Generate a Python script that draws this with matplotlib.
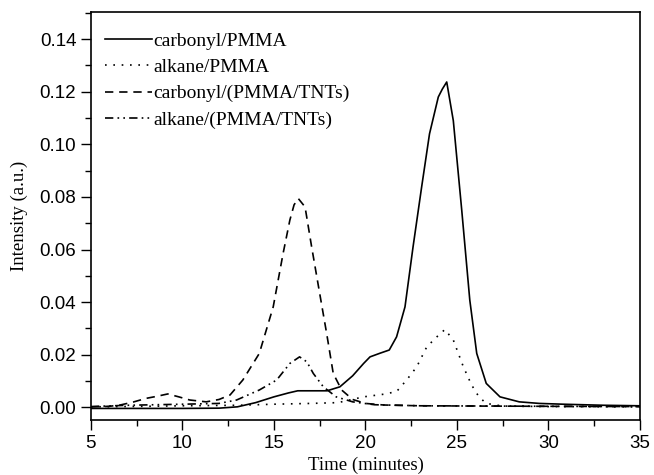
import matplotlib
matplotlib.use("Agg")
import matplotlib.pyplot as plt
import numpy as np
from matplotlib.ticker import MultipleLocator

# carbonyl/PMMA (solid)
t_cp = [5, 8, 10, 12, 13, 14, 15, 15.8, 16.3, 17.0, 17.9, 18.6, 19.3, 19.9, 20.25, 20.8, 21.3,
        21.7, 22.16, 22.6, 23.07, 23.5, 23.98, 24.2, 24.44, 24.8, 25.26, 25.7, 26.08, 26.6,
        27.35, 28.4, 29.5, 30.8, 33, 35]
y_cp = [-0.0004, -0.0004, -0.0004, -0.0003, 0.0002, 0.0018, 0.004, 0.0055, 0.0063, 0.0063,
        0.0063, 0.0078, 0.012, 0.0167, 0.0192, 0.0206, 0.0218, 0.0268, 0.0382, 0.061, 0.0838,
        0.104, 0.118, 0.121, 0.1237, 0.109, 0.075, 0.0408, 0.0205, 0.0091, 0.004, 0.0021,
        0.0015, 0.0012, 0.0008, 0.0006]

# alkane/PMMA (dotted)
t_ap = [5, 8, 10, 13, 15, 17, 18.5, 19.9, 21, 21.7, 22.25, 22.8, 23.35, 23.9, 24.34, 24.8,
        25.35, 25.8, 26.2, 26.6, 27.5, 30, 35]
y_ap = [0.0002, 0.0004, 0.0006, 0.0008, 0.0012, 0.0015, 0.0018, 0.004, 0.005, 0.006, 0.0104,
        0.0154, 0.023, 0.0268, 0.0296, 0.0256, 0.0154, 0.0085, 0.004, 0.0015, 0.0005, 0.0003,
        0.0002]

# carbonyl/(PMMA/TNTs) (dashed)
t_ct = [5, 6, 6.6, 7.3, 8.0, 8.6, 9.2, 9.8, 10.4, 11.3, 12.0, 12.6, 13.3, 14.2, 14.96, 15.5,
        15.87, 16.1, 16.33, 16.7, 17.06, 17.5, 17.88, 18.24, 18.7, 19.3, 20, 21, 23, 26, 30, 35]
y_ct = [0.0002, 0.0004, 0.0009, 0.002, 0.0034, 0.0042, 0.0051, 0.004, 0.0028, 0.0021, 0.003,
        0.0047, 0.0104, 0.0205, 0.0382, 0.0585, 0.0712, 0.077, 0.0794, 0.0762, 0.061, 0.0433,
        0.0281, 0.0129, 0.0066, 0.003, 0.0015, 0.0009, 0.0006, 0.0005, 0.0004, 0.0003]

# alkane/(PMMA/TNTs) (dash-dot-dot)
t_at = [5, 7, 10, 12, 12.96, 14.2, 15.15, 15.87, 16.4, 16.8, 17.15, 17.7, 18.4, 19.3, 20.5,
        23, 27, 30, 35]
y_at = [0.0003, 0.0008, 0.0012, 0.0015, 0.0028, 0.0066, 0.0104, 0.0167, 0.0192, 0.0173, 0.0129,
        0.0078, 0.004, 0.0021, 0.0010, 0.0006, 0.0005, 0.0004, 0.0003]

labels = ["carbonyl/PMMA", "alkane/PMMA", "carbonyl/(PMMA/TNTs)", "alkane/(PMMA/TNTs)"]

fig = plt.figure(figsize=(6.54, 4.75), dpi=100)
ax = fig.add_axes([0.139, 0.1158, 0.8396, 0.8589])

lw = 1.2
ax.plot(t_cp, y_cp, color="black", lw=lw, linestyle="-", label=labels[0])
ax.plot(t_ap, y_ap, color="black", lw=lw, linestyle=(0, (1, 4)), label=labels[1])
ax.plot(t_ct, y_ct, color="black", lw=lw, linestyle=(0, (5, 3.5)), label=labels[2])
ax.plot(t_at, y_at, color="black", lw=lw, linestyle=(0, (5, 2.5, 1, 2.5, 1, 2.5)), label=labels[3])

ax.set_xlim(5, 35)
ax.set_ylim(-0.0048, 0.1503)
ax.xaxis.set_major_locator(MultipleLocator(5))
ax.xaxis.set_minor_locator(MultipleLocator(2.5))
ax.yaxis.set_major_locator(MultipleLocator(0.02))
ax.yaxis.set_minor_locator(MultipleLocator(0.01))
ax.yaxis.set_major_formatter(matplotlib.ticker.FormatStrFormatter("%.2f"))
ax.tick_params(which="both", direction="out", top=False, right=False, width=1.0)
ax.tick_params(which="major", length=7, labelsize=13.5)
ax.tick_params(which="minor", length=4)
for lab in ax.get_xticklabels() + ax.get_yticklabels():
    lab.set_fontfamily("Liberation Sans")
for sp in ax.spines.values():
    sp.set_linewidth(1.2)

ax.set_xlabel("Time (minutes)", fontfamily="Liberation Serif", fontsize=13.5, labelpad=4)
ax.set_ylabel("Intensity (a.u.)", fontfamily="Liberation Serif", fontsize=13.5, labelpad=8)

leg = ax.legend(loc="upper left", bbox_to_anchor=(0.0255, 0.950), frameon=False,
                prop={"family": "Liberation Serif", "size": 14}, handlelength=2.4,
                handletextpad=0.1, labelspacing=0.44, borderaxespad=0, borderpad=0)

fig.savefig("out.png", dpi=100)
